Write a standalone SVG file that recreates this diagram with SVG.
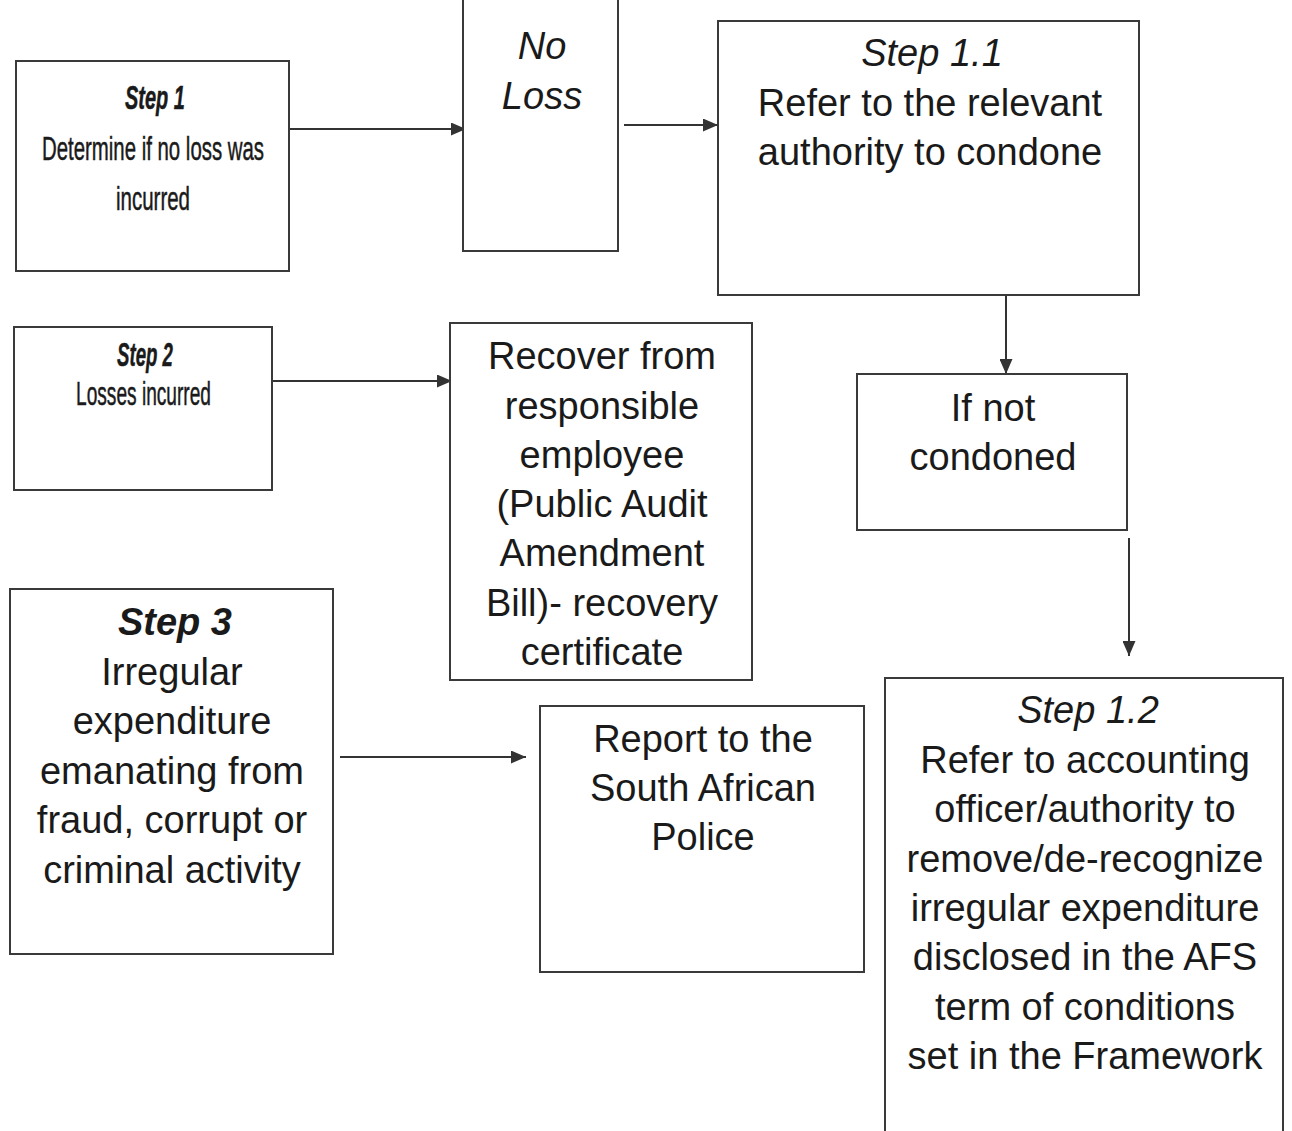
<svg xmlns="http://www.w3.org/2000/svg" width="1292" height="1131" viewBox="0 0 1292 1131">
  <style>
    .box { fill: #ffffff; stroke: #3a3a3a; stroke-width: 2; }
    .edge { fill: none; stroke: #333333; stroke-width: 2; }
    .t { font-family: "Liberation Sans", Arial, sans-serif; font-size: 38px; fill: #1a1a1a; text-anchor: middle; }
    .it { font-style: italic; }
    .bi { font-style: italic; font-weight: bold; }
    .n { font-family: "Liberation Sans Narrow", "Liberation Sans", Arial, sans-serif; font-size: 34px; fill: #1a1a1a; stroke: #1a1a1a; stroke-width: 0.5; }
  </style>
  <defs>
    <marker id="arrow" viewBox="0 0 15 13" refX="15" refY="6.5" markerWidth="15" markerHeight="13" markerUnits="userSpaceOnUse" orient="auto">
      <path d="M0,0 L15,6.5 L0,13 z" fill="#333333"/>
    </marker>
  </defs>
  <rect width="1292" height="1131" fill="#ffffff"/>

  <g id="connectors">
    <line class="edge" x1="289" y1="129" x2="466" y2="129" marker-end="url(#arrow)"/>
    <line class="edge" x1="624" y1="125" x2="718" y2="125" marker-end="url(#arrow)"/>
    <line class="edge" x1="1006" y1="280" x2="1006" y2="374" marker-end="url(#arrow)"/>
    <line class="edge" x1="1129" y1="538" x2="1129" y2="656" marker-end="url(#arrow)"/>
    <line class="edge" x1="270" y1="381" x2="452" y2="381" marker-end="url(#arrow)"/>
    <line class="edge" x1="340" y1="757" x2="526" y2="757" marker-end="url(#arrow)"/>
  </g>

  <g id="step1">
    <rect class="box" x="16" y="61" width="273" height="210"/>
    <text class="n bi" x="125" y="109" textLength="60" lengthAdjust="spacingAndGlyphs">Step 1</text>
    <text class="n" x="42" y="160" textLength="222" lengthAdjust="spacingAndGlyphs">Determine if no loss was</text>
    <text class="n" x="116" y="210" textLength="74" lengthAdjust="spacingAndGlyphs">incurred</text>
  </g>

  <g id="no-loss">
    <rect class="box" x="463" y="-2" width="155" height="253"/>
    <text class="t it" x="542" y="59">No</text>
    <text class="t it" x="542" y="109">Loss</text>
  </g>

  <g id="step1-1">
    <rect class="box" x="718" y="21" width="421" height="274"/>
    <text class="t it" x="932" y="66">Step 1.1</text>
    <text class="t" x="930" y="116">Refer to the relevant</text>
    <text class="t" x="930" y="165">authority to condone</text>
  </g>

  <g id="if-not-condoned">
    <rect class="box" x="857" y="374" width="270" height="156"/>
    <text class="t" x="993" y="421">If not</text>
    <text class="t" x="993" y="470">condoned</text>
  </g>

  <g id="step1-2">
    <rect class="box" x="885" y="678" width="398" height="470"/>
    <text class="t it" x="1088" y="723">Step 1.2</text>
    <text class="t" x="1085" y="773">Refer to accounting</text>
    <text class="t" x="1085" y="822">officer/authority to</text>
    <text class="t" x="1085" y="872">remove/de-recognize</text>
    <text class="t" x="1085" y="921">irregular expenditure</text>
    <text class="t" x="1085" y="970">disclosed in the AFS</text>
    <text class="t" x="1085" y="1020">term of conditions</text>
    <text class="t" x="1085" y="1069">set in the Framework</text>
  </g>

  <g id="step2">
    <rect class="box" x="14" y="327" width="258" height="163"/>
    <text class="n bi" x="117" y="366" font-size="28" textLength="56" lengthAdjust="spacingAndGlyphs">Step 2</text>
    <text class="n" x="76" y="405" font-size="30" textLength="135" lengthAdjust="spacingAndGlyphs">Losses incurred</text>
  </g>

  <g id="recover">
    <rect class="box" x="450" y="323" width="302" height="357"/>
    <text class="t" x="602" y="369">Recover from</text>
    <text class="t" x="602" y="419">responsible</text>
    <text class="t" x="602" y="468">employee</text>
    <text class="t" x="602" y="517">(Public Audit</text>
    <text class="t" x="602" y="566">Amendment</text>
    <text class="t" x="602" y="616">Bill)- recovery</text>
    <text class="t" x="602" y="665">certificate</text>
  </g>

  <g id="step3">
    <rect class="box" x="10" y="589" width="323" height="365"/>
    <text class="t bi" x="175" y="635">Step 3</text>
    <text class="t" x="172" y="685">Irregular</text>
    <text class="t" x="172" y="734">expenditure</text>
    <text class="t" x="172" y="784">emanating from</text>
    <text class="t" x="172" y="833">fraud, corrupt or</text>
    <text class="t" x="172" y="883">criminal activity</text>
  </g>

  <g id="report">
    <rect class="box" x="540" y="706" width="324" height="266"/>
    <text class="t" x="703" y="752">Report to the</text>
    <text class="t" x="703" y="801">South African</text>
    <text class="t" x="703" y="850">Police</text>
  </g>
</svg>
